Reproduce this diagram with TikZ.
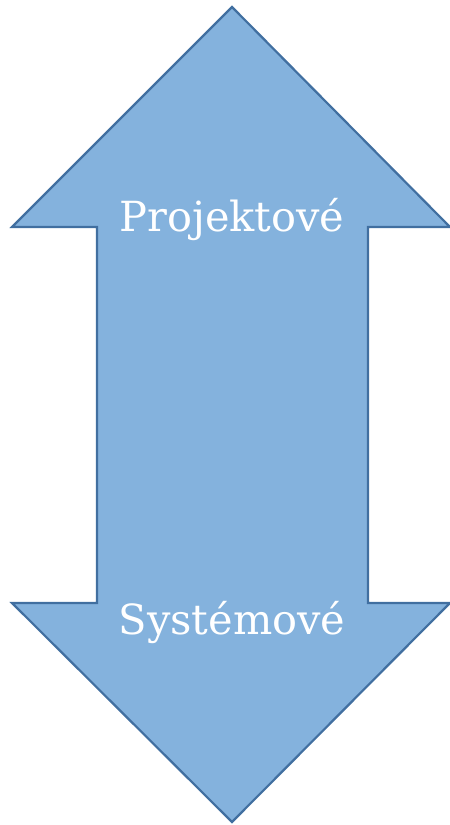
\documentclass[tikz,border=0pt]{standalone}
\usepackage{fontspec}
\setmainfont{DejaVu Serif}
\definecolor{arrowfill}{RGB}{132,178,221}
\definecolor{arrowline}{RGB}{65,111,160}
\tikzset{
  arrowshape/.style={fill=arrowfill, draw=arrowline, line width=2.2pt, line join=miter},
  label/.style={anchor=base, text=white, font=\fontsize{41.5}{48}\selectfont, inner sep=0pt}
}
\begin{document}
\begin{tikzpicture}[x=1pt,y=1pt]
\useasboundingbox (0,0) rectangle (450,825);
\draw[arrowshape] (232,818) -- (450,598) -- (368,598) -- (368,222) -- (450,222)
  -- (232,3) -- (12,222) -- (97,222) -- (97,598) -- (12,598) -- cycle;
\node[label] (top) at (232,593) {Projektové};
\node[label] (bottom) at (232,190) {Systémové};
\end{tikzpicture}
\end{document}
